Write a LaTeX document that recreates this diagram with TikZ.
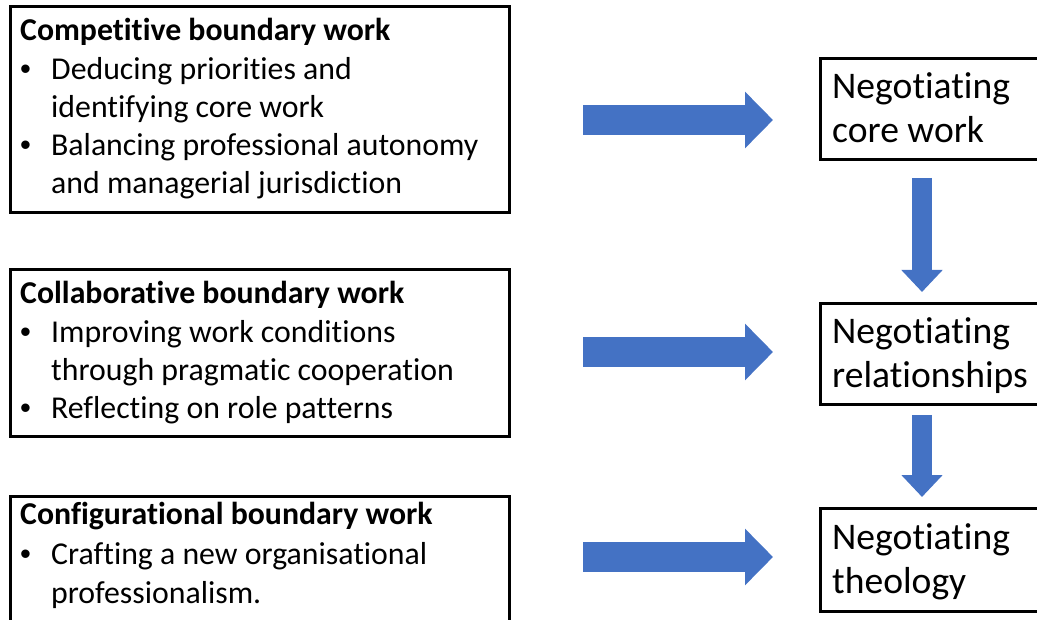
\documentclass[tikz,border=0pt]{standalone}
\usepackage{fontspec}
\setmainfont{Carlito}[Ligatures={NoCommon}]
\newfontfamily\bulletfont{Liberation Sans}
\usetikzlibrary{arrows.meta}
\definecolor{arrblue}{HTML}{4472C4}
\begin{document}
\begin{tikzpicture}[x=1pt,y=-1pt,
  box/.style={draw, line width=2.6pt, inner sep=0pt, anchor=north west},
  ltxt/.style={anchor=base west, inner sep=0pt, font=\fontsize{31.8}{38}\selectfont},
  btxt/.style={anchor=base west, inner sep=0pt, font=\bulletfont\fontsize{31}{38}\selectfont},
  rtxt/.style={anchor=base west, inner sep=0pt, font=\fontsize{37.6}{44}\selectfont},
  harrow/.style={draw=arrblue, line width=30pt, -{Triangle[width=55pt,length=28pt]}},
  varrow/.style={draw=arrblue, line width=20pt, -{Triangle[width=40pt,length=22pt]}}]
\useasboundingbox (0,0) rectangle (1037,620);
% left boxes
\node[box, minimum width=499pt, minimum height=206pt] (L1) at (9,5) {};
\node[box, minimum width=499pt, minimum height=167pt] (L2) at (9,268) {};
\node[box, minimum width=499pt, minimum height=160pt] (L3) at (9,495) {};
% right boxes
\node[box, minimum width=221pt, minimum height=101pt] (R1) at (819,57) {};
\node[box, minimum width=221pt, minimum height=101pt] (R2) at (819,302) {};
\node[box, minimum width=221pt, minimum height=103pt] (R3) at (819,507) {};
% left texts
\node[ltxt] (h1) at (20,41) {\bfseries Competitive boundary work};
\node[btxt] (b11) at (20,80) {•};
\node[ltxt] (t11) at (51,80) {Deducing priorities and};
\node[ltxt] (t12) at (51,118) {identifying core work};
\node[btxt] (b12) at (20,156) {•};
\node[ltxt] (t13) at (51,156) {Balancing professional autonomy};
\node[ltxt] (t14) at (51,194) {and managerial jurisdiction};
\node[ltxt] (h2) at (20,304) {\bfseries Collaborative boundary work};
\node[btxt] (b21) at (20,343) {•};
\node[ltxt] (t21) at (51,343) {Improving work conditions};
\node[ltxt] (t22) at (51,381) {through pragmatic cooperation};
\node[btxt] (b22) at (20,419) {•};
\node[ltxt] (t23) at (51,419) {Reflecting on role patterns};
\node[ltxt] (h3) at (20,524) {\bfseries Configurational boundary work};
\node[btxt] (b31) at (20,564) {•};
\node[ltxt] (t31) at (51,564) {Crafting a new organisational};
\node[ltxt] (t32) at (51,603) {professionalism.};
% right texts
\node[rtxt] (r11) at (832,99) {Negotiating};
\node[rtxt] (r12) at (832,143) {core work};
\node[rtxt] (r21) at (832,344) {Negotiating};
\node[rtxt] (r22) at (832,388) {relationships};
\node[rtxt] (r31) at (832,549) {Negotiating};
\node[rtxt] (r32) at (832,593) {theology};
% arrow end points
\coordinate (a1s) at (583,120); \coordinate (a1e) at (773,120);
\coordinate (a2s) at (583,352); \coordinate (a2e) at (773,352);
\coordinate (a3s) at (583,557); \coordinate (a3e) at (773,557);
\coordinate (v1s) at (922,178); \coordinate (v1e) at (922,292);
\coordinate (v2s) at (922,415); \coordinate (v2e) at (922,497);
\draw[harrow] (a1s) -- (a1e);
\draw[harrow] (a2s) -- (a2e);
\draw[harrow] (a3s) -- (a3e);
\draw[varrow] (v1s) -- (v1e);
\draw[varrow] (v2s) -- (v2e);
\end{tikzpicture}
\end{document}
